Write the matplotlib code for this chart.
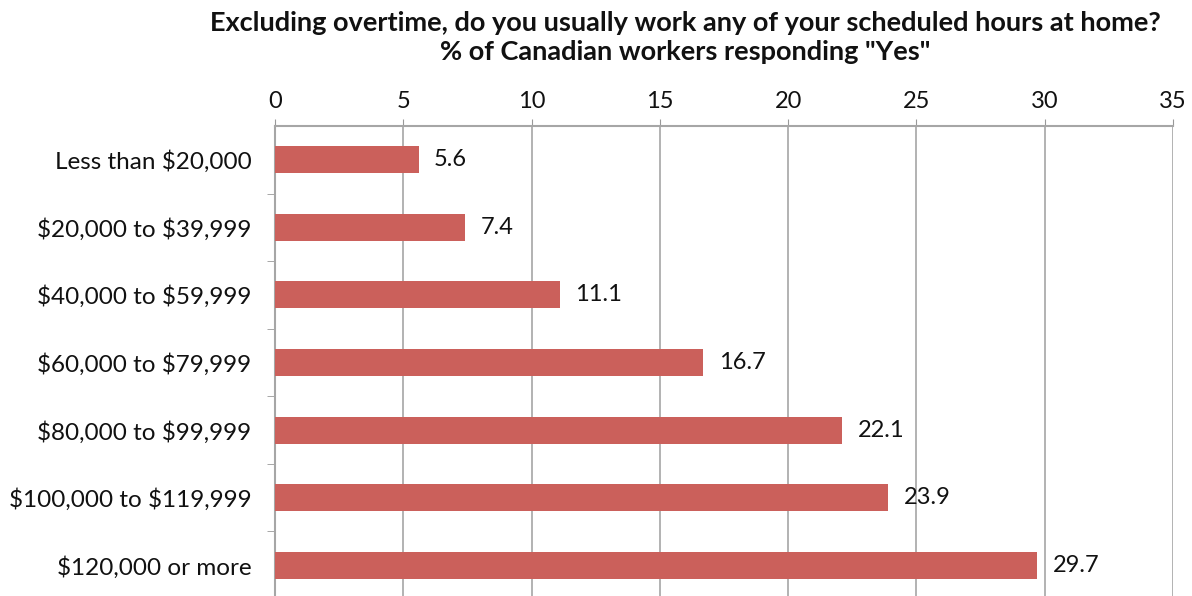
import numpy as np
import matplotlib.pyplot as plt

# income groups and % responding "Yes"
categories = ["Less than $20,000", "$20,000 to $39,999", "$40,000 to $59,999",
              "$60,000 to $79,999", "$80,000 to $99,999", "$100,000 to $119,999",
              "$120,000 or more"]
values = [5.6, 7.4, 11.1, 16.7, 22.1, 23.9, 29.7]
xticks = [0, 5, 10, 15, 20, 25, 30, 35]

plt.rcParams['font.family'] = ['Lato', 'DejaVu Sans']
plt.rcParams['text.parse_math'] = False

fig = plt.figure(figsize=(11.92, 5.96), dpi=100)
ax = fig.add_axes([0.2307, -0.005, 0.7534, 0.7936])

y = np.arange(len(categories))
ax.barh(y, values, height=0.4, color='#CB605B', zorder=3)

for yi, v in zip(y, values):
    ax.text(v + 0.6, yi, f"{v:.1f}", va='center', ha='left', fontsize=17, color='#111111')

ax.set_xlim(0, 35)
ax.set_ylim(len(categories) - 0.5, -0.5)
ax.set_xticks(xticks)
ax.xaxis.tick_top()
ax.tick_params(axis='x', which='major', length=5, color='#999999', labelsize=17, pad=5, labelcolor='#111111')
ax.set_yticks(y)
ax.set_yticklabels(categories)
ax.set_yticks(np.arange(len(categories)) + 0.5, minor=True)
ax.tick_params(axis='y', which='major', length=0, labelsize=17.5, pad=17, labelcolor='#111111')
ax.tick_params(axis='y', which='minor', length=6, color='#999999')

ax.grid(axis='x', color='#A6A6A6', linewidth=1.2, zorder=0)
for s in ['right', 'bottom']:
    ax.spines[s].set_visible(False)
for s in ['top', 'left']:
    ax.spines[s].set_color('#A6A6A6')
    ax.spines[s].set_linewidth(1.5)

fig.text(0.575, 0.962, "Excluding overtime, do you usually work any of your scheduled hours at home?",
         ha='center', va='center', fontsize=19.5, fontweight='bold', color='#111111')
fig.text(0.575, 0.912, '% of Canadian workers responding "Yes"',
         ha='center', va='center', fontsize=19.5, fontweight='bold', color='#111111')

fig.savefig('out.png', dpi=100)
